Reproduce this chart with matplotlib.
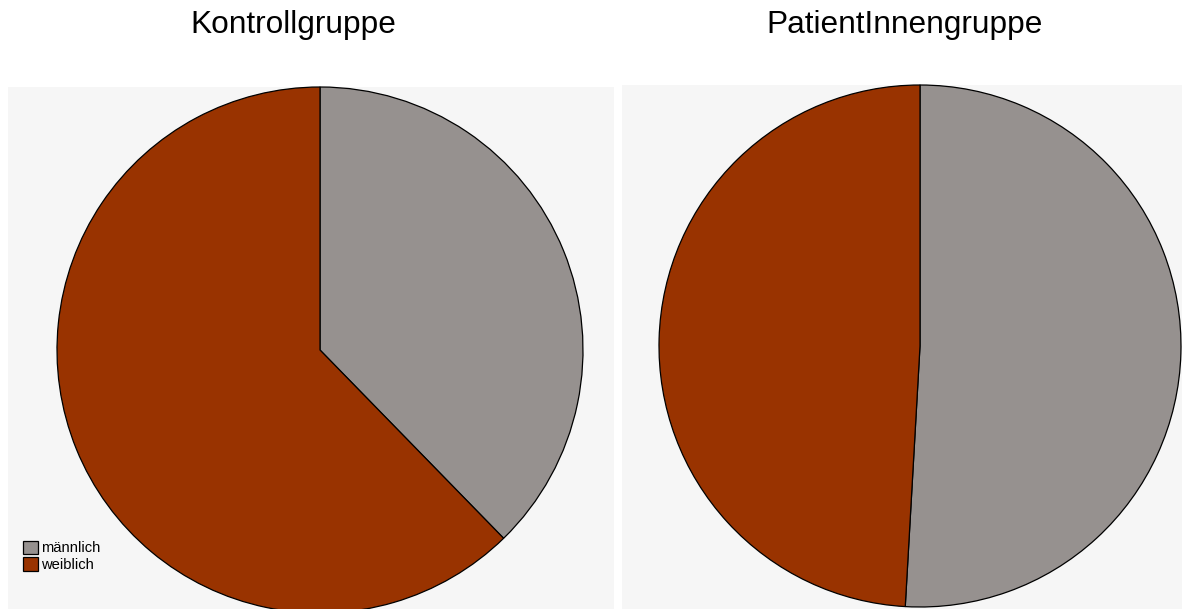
import matplotlib.pyplot as plt

plt.rcParams['font.family'] = ['Liberation Sans', 'DejaVu Sans']

labels = ["männlich", "weiblich"]
kontroll = [37.7, 62.3]
patienten = [50.9, 49.1]
titles = ["Kontrollgruppe", "PatientInnengruppe"]
colors = ["#96918f", "#993300"]

W, H = 1182, 609
fig = plt.figure(figsize=(W / 100, H / 100), dpi=100)

# panels in pixel coordinates: (left, top, right, bottom), pie centre and radius
panels = [
    ((8, 87, 614, 609), (320, 350), 263),
    ((622, 85, 1182, 609), (920, 346), 261),
]

axes = []
for (l, t, r, b), (cx, cy), rad in panels:
    ax = fig.add_axes([l / W, (H - b) / H, (r - l) / W, (b - t) / H])
    axes.append((ax, (l, t, r, b), (cx, cy), rad))

wedges_left = None
for (ax, (l, t, r, b), (cx, cy), rad), vals in zip(axes, [kontroll, patienten]):
    w, _ = ax.pie(vals, colors=colors, startangle=90, counterclock=False,
                  radius=rad, center=(cx - l, b - cy),
                  wedgeprops=dict(edgecolor="black", linewidth=0.9))
    ax.set_xlim(0, r - l)
    ax.set_ylim(0, b - t)
    ax.set_aspect('auto')
    ax.set_frame_on(True)
    ax.set_facecolor("#f6f6f6")
    for s in ax.spines.values():
        s.set_visible(False)
    ax.set_xticks([])
    ax.set_yticks([])
    if wedges_left is None:
        wedges_left = w

fig.text(293 / W, 1 - 25 / H, titles[0], ha="center", va="center", fontsize=22.8)
fig.text(904.5 / W, 1 - 25 / H, titles[1], ha="center", va="center", fontsize=22.8)

axes[0][0].legend(wedges_left, labels, loc="lower left",
                  bbox_to_anchor=(23 / W, (H - 572) / H), bbox_transform=fig.transFigure,
                  frameon=False, fontsize=10.6, handlelength=1.0, handleheight=1.0,
                  handletextpad=0.2, labelspacing=0.15, borderpad=0, borderaxespad=0)

fig.savefig("out.png", dpi=100)
